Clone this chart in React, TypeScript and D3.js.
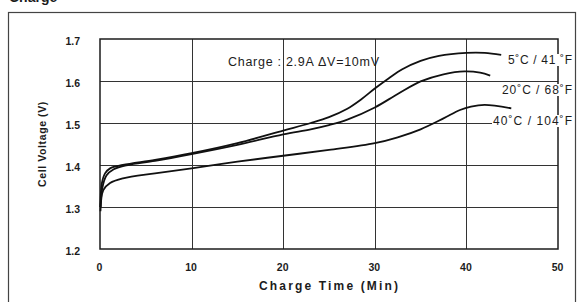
import * as d3 from 'd3'
import { useEffect, useRef } from 'react'

// charge time (min) and cell voltage (V)
const t5C = [0.05, 0.2, 0.55, 1.1, 2.5, 6, 10, 15, 20, 23, 25, 27, 28.5, 30, 31.5, 33, 35, 37, 40, 42, 43.8]
const v5C = [1.3, 1.356, 1.38, 1.392, 1.4, 1.412, 1.428, 1.452, 1.482, 1.5, 1.514, 1.534, 1.556, 1.582, 1.606, 1.628, 1.648, 1.66, 1.667, 1.667, 1.662]

const t20C = [0.05, 0.25, 0.7, 1.5, 3, 6, 10, 15, 20, 23, 25, 27, 30, 32.5, 35, 37.5, 39.8, 41.5, 42.6]
const v20C = [1.3, 1.345, 1.375, 1.39, 1.4, 1.41, 1.426, 1.448, 1.473, 1.485, 1.495, 1.508, 1.537, 1.569, 1.599, 1.616, 1.623, 1.62, 1.613]

const t40C = [0.05, 0.36, 1.1, 2.5, 6, 10, 15, 20, 25, 30, 32.5, 35, 37.5, 39.3, 40.5, 42, 44.9]
const v40C = [1.29, 1.34, 1.357, 1.368, 1.38, 1.392, 1.408, 1.422, 1.436, 1.452, 1.466, 1.485, 1.511, 1.531, 1.539, 1.543, 1.535]

const seriesLabels = ['5˚C / 41 ˚F', '20˚C / 68˚F', '40˚C / 104˚F']
const xTicks = [0, 10, 20, 30, 40, 50]
const yTicks = [1.2, 1.3, 1.4, 1.5, 1.6, 1.7]

export default function App() {
    const ref = useRef<SVGSVGElement>(null)

    useEffect(() => {
        const svg = d3.select(ref.current)
        svg.selectAll('*').remove()

        const x = d3.scaleLinear().domain([0, 50]).range([100, 558])
        const y = d3.scaleLinear().domain([1.2, 1.7]).range([249, 39])
        const ink = '#1c1c1c'
        const font = 'Liberation Sans, Arial, sans-serif'

        svg.append('rect').attr('width', 579).attr('height', 302).attr('fill', '#fff')

        // outer frame of the figure and the cut off title
        svg.append('rect')
            .attr('x', 8.5).attr('y', 12.5).attr('width', 567).attr('height', 300)
            .attr('fill', 'none').attr('stroke', '#444').attr('stroke-width', 1.2)
        svg.append('text')
            .attr('x', 9).attr('y', 2)
            .attr('font-family', font).attr('font-weight', 'bold').attr('font-size', 14)
            .attr('fill', ink)
            .text('Charge')

        // grid
        const grid = svg.append('g').attr('stroke', '#333').attr('stroke-width', 1)
        grid.selectAll('line.h').data(yTicks.slice(1, -1)).join('line')
            .attr('x1', x(0)).attr('x2', x(50))
            .attr('y1', d => Math.round(y(d)) + 0.5).attr('y2', d => Math.round(y(d)) + 0.5)
        grid.selectAll('line.v').data(xTicks.slice(1, -1)).join('line')
            .attr('class', 'v')
            .attr('y1', y(1.2)).attr('y2', y(1.7))
            .attr('x1', d => Math.round(x(d)) + 0.5).attr('x2', d => Math.round(x(d)) + 0.5)

        svg.append('rect')
            .attr('x', x(0)).attr('y', y(1.7))
            .attr('width', x(50) - x(0)).attr('height', y(1.2) - y(1.7))
            .attr('fill', 'none').attr('stroke', ink).attr('stroke-width', 1.5)

        // axes: labels only
        const xAxis = svg.append('g')
            .attr('transform', `translate(-1,${y(1.2) + 12})`)
            .call(d3.axisBottom(x).tickValues(xTicks).tickSize(0).tickFormat(d3.format('d')))
        const yAxis = svg.append('g')
            .attr('transform', `translate(${x(0) - 17},2)`)
            .call(d3.axisLeft(y).tickValues(yTicks).tickSize(0).tickFormat(d3.format('.1f')))
        ;[xAxis, yAxis].forEach(a => {
            a.select('.domain').remove()
            a.selectAll('text')
                .attr('font-family', font).attr('font-weight', 'bold').attr('font-size', 10.5)
                .attr('fill', ink)
        })

        svg.append('text')
            .attr('x', 259).attr('y', 290)
            .attr('textLength', 139).attr('lengthAdjust', 'spacing')
            .attr('font-family', font).attr('font-weight', 'bold').attr('font-size', 12)
            .attr('fill', ink)
            .text('Charge Time (Min)')
        svg.append('text')
            .attr('transform', 'translate(46,144) rotate(-90)')
            .attr('text-anchor', 'middle')
            .attr('font-family', font).attr('font-weight', 'bold').attr('font-size', 10.5)
            .attr('letter-spacing', 0.6)
            .attr('fill', ink)
            .text('Cell Voltage (V)')

        svg.append('text')
            .attr('x', 228).attr('y', 66)
            .attr('textLength', 151).attr('lengthAdjust', 'spacing')
            .attr('font-family', font).attr('font-size', 12.5)
            .attr('fill', ink)
            .text('Charge : 2.9A  ΔV=10mV')

        // curves
        const line = d3.line<[number, number]>()
            .x(d => x(d[0])).y(d => y(d[1]))
            .curve(d3.curveCatmullRom.alpha(0.5))
        const series = [
            { t: t5C, v: v5C },
            { t: t20C, v: v20C },
            { t: t40C, v: v40C },
        ]
        svg.append('g')
            .selectAll('path')
            .data(series)
            .join('path')
                .attr('d', s => line(s.t.map((t, i) => [t, s.v[i]] as [number, number])))
                .attr('fill', 'none')
                .attr('stroke', '#111')
                .attr('stroke-width', 1.8)

        // curve labels at the right end of each curve
        const labelPos = [
            { x: 508, y: 64, w: 64 },
            { x: 502, y: 94, w: 70 },
            { x: 493, y: 125, w: 79 },
        ]
        const lab = svg.append('g')
        seriesLabels.forEach((txt, i) => {
            const tx = lab.append('text')
                .attr('x', labelPos[i].x).attr('y', labelPos[i].y)
                .attr('textLength', labelPos[i].w).attr('lengthAdjust', 'spacing')
                .attr('font-family', font).attr('font-size', 12)
                .attr('fill', ink)
                .text(txt)
            const bb = (tx.node() as SVGTextElement).getBBox()
            lab.insert('rect', () => tx.node())
                .attr('x', bb.x - 1).attr('y', bb.y + 1)
                .attr('width', bb.width + 2).attr('height', bb.height - 2)
                .attr('fill', '#fff')
        })
    }, [])

    return (
        <svg ref={ref} width={579} height={302}
            style={{ position: 'absolute', left: 0, top: 0, display: 'block' }} />
    )
}
